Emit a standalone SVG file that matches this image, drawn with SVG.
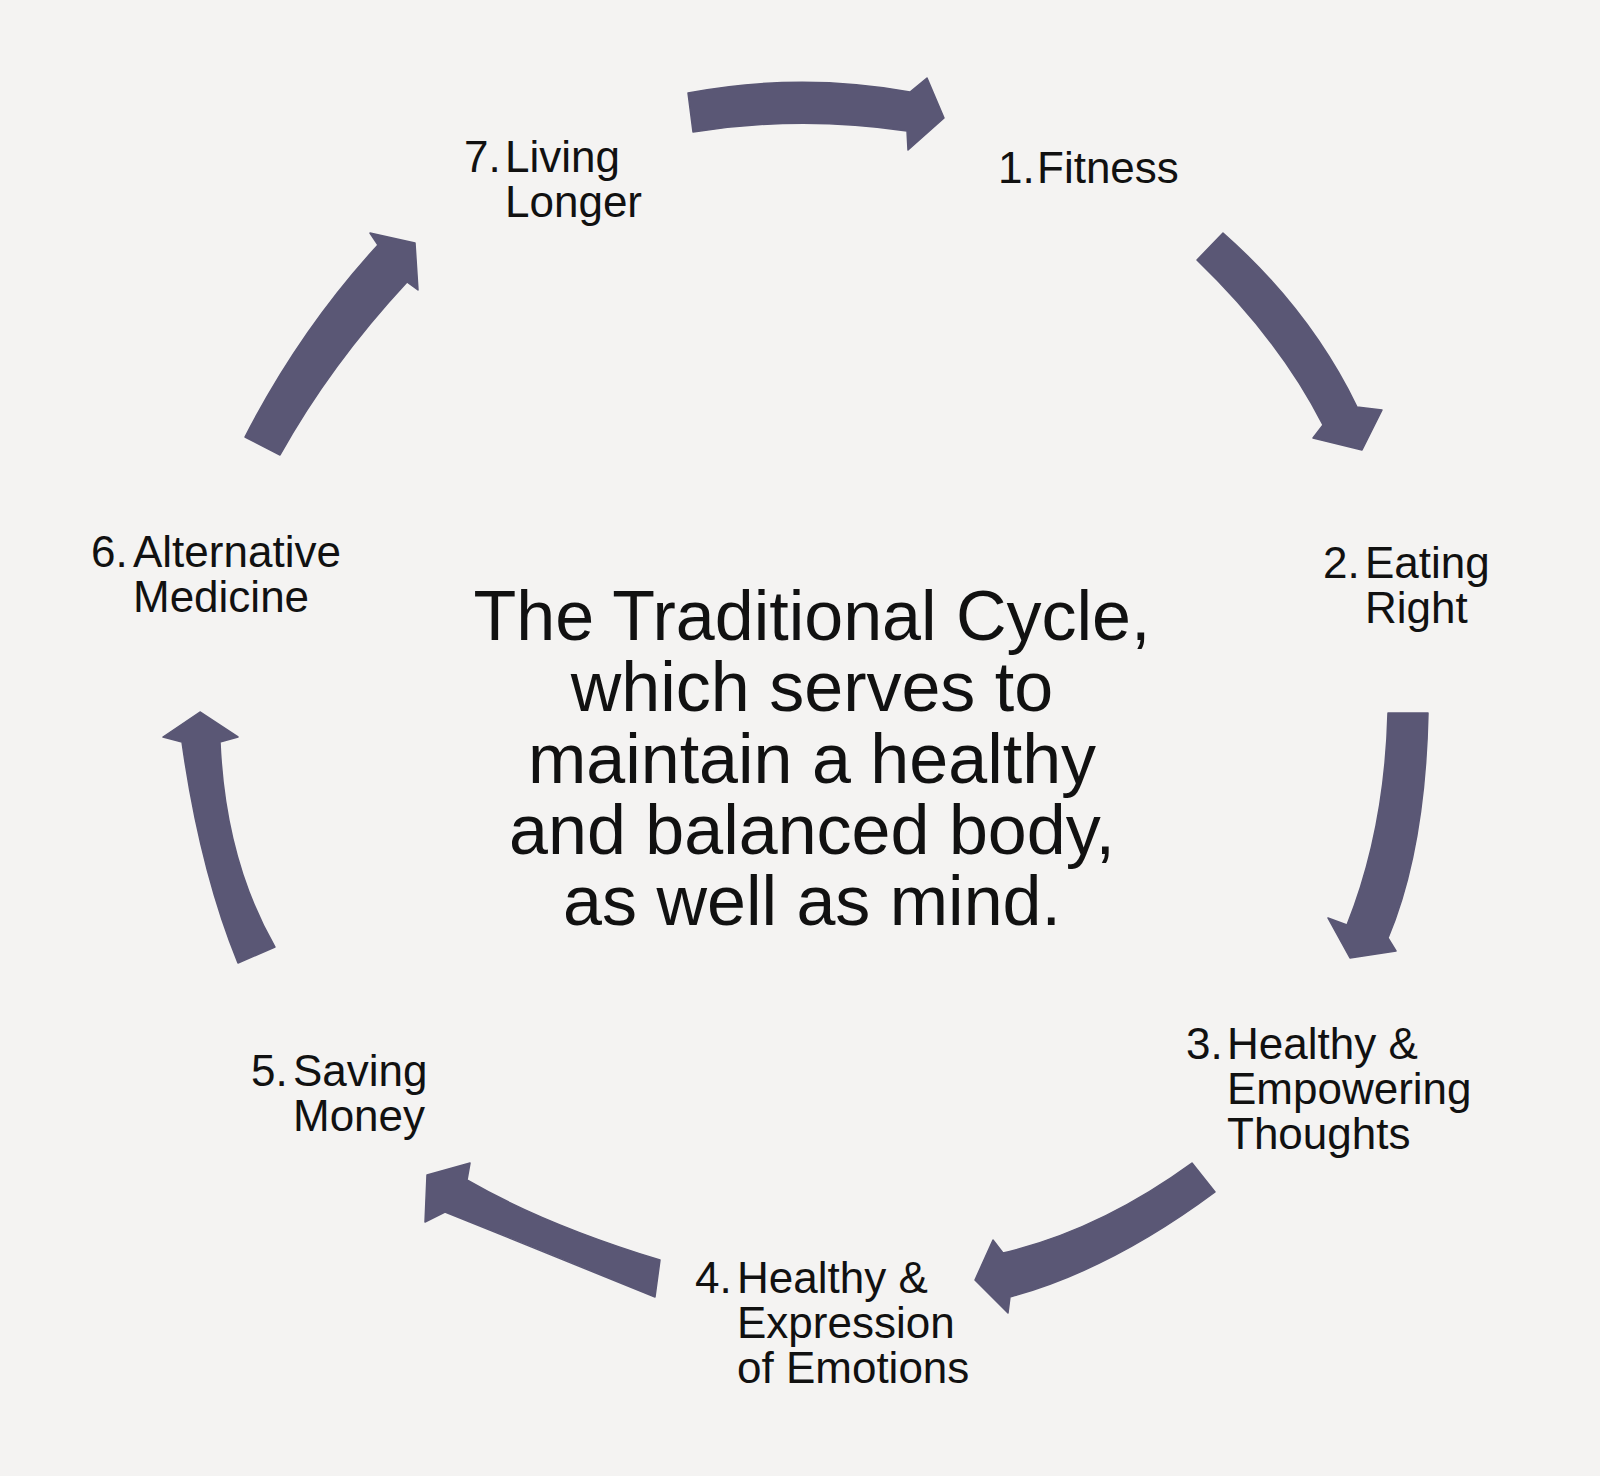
<svg xmlns="http://www.w3.org/2000/svg" width="1600" height="1476" viewBox="0 0 1600 1476">
<style>
.bg{fill:#f4f3f2}
.arrow{fill:#5a5775;stroke:#5a5775;stroke-width:1.5;stroke-linejoin:round}
.lbl{font-family:"Liberation Sans",Arial,Helvetica,sans-serif;font-size:44px;fill:#111}
.title{font-family:"Liberation Sans",Arial,Helvetica,sans-serif;font-size:70px;fill:#111;text-anchor:middle}
</style>
<rect class="bg" x="0" y="0" width="1600" height="1476"/>
<g id="connectors">
<path id="a7to1" class="arrow" d="M688,93 Q800,72 910,92 L927,78 L944,118 L908,150 L907,131 Q800,115 693,132 Z"/>
<path id="a1to2" class="arrow" d="M1223,233 Q1310,310 1357,407 L1382,410 L1362,450 L1313,438 L1323,425 Q1280,340 1197,260 Z"/>
<path id="a2to3" class="arrow" d="M1428,713 Q1425,850 1388,938 L1396,951 L1350,958 L1328,918 L1347,925 Q1385,830 1388,713 Z"/>
<path id="a3to4" class="arrow" d="M1192,1163 Q1100,1230 1003,1253 L993,1240 L975,1280 L1008,1313 L1010,1297 Q1110,1270 1215,1192 Z"/>
<path id="a4to5" class="arrow" d="M660,1260 Q545,1225 467,1180 L470,1163 L427,1175 L425,1222 L445,1212 Q540,1250 655,1297 Z"/>
<path id="a5to6" class="arrow" d="M200,712 L163,737 L182,742 Q200,870 238,963 L275,947 Q225,860 220,742 L238,737 Z"/>
<path id="a6to7" class="arrow" d="M245,437 Q300,330 378,245 L370,233 L415,243 L418,290 L407,282 Q330,365 280,455 Z"/>
</g>
<g id="title">
<text class="title" x="812" y="640">The Traditional Cycle,</text>
<text class="title" x="812" y="711">which serves to</text>
<text class="title" x="812" y="783">maintain a healthy</text>
<text class="title" x="812" y="854">and balanced body,</text>
<text class="title" x="812" y="925">as well as mind.</text>
</g>
<g id="node1">
<text class="lbl" x="998" y="183">1.</text>
<text class="lbl" x="1037" y="183">Fitness</text>
</g>
<g id="node2">
<text class="lbl" x="1323" y="578">2.</text>
<text class="lbl" x="1365" y="578">Eating</text>
<text class="lbl" x="1365" y="623">Right</text>
</g>
<g id="node3">
<text class="lbl" x="1186" y="1059">3.</text>
<text class="lbl" x="1227" y="1059">Healthy &amp;</text>
<text class="lbl" x="1227" y="1104">Empowering</text>
<text class="lbl" x="1227" y="1149">Thoughts</text>
</g>
<g id="node4">
<text class="lbl" x="695" y="1293">4.</text>
<text class="lbl" x="737" y="1293">Healthy &amp;</text>
<text class="lbl" x="737" y="1338">Expression</text>
<text class="lbl" x="737" y="1383">of Emotions</text>
</g>
<g id="node5">
<text class="lbl" x="251" y="1086">5.</text>
<text class="lbl" x="293" y="1086">Saving</text>
<text class="lbl" x="293" y="1131">Money</text>
</g>
<g id="node6">
<text class="lbl" x="91" y="567">6.</text>
<text class="lbl" x="133" y="567">Alternative</text>
<text class="lbl" x="133" y="612">Medicine</text>
</g>
<g id="node7">
<text class="lbl" x="464" y="172">7.</text>
<text class="lbl" x="505" y="172">Living</text>
<text class="lbl" x="505" y="217">Longer</text>
</g>
</svg>
